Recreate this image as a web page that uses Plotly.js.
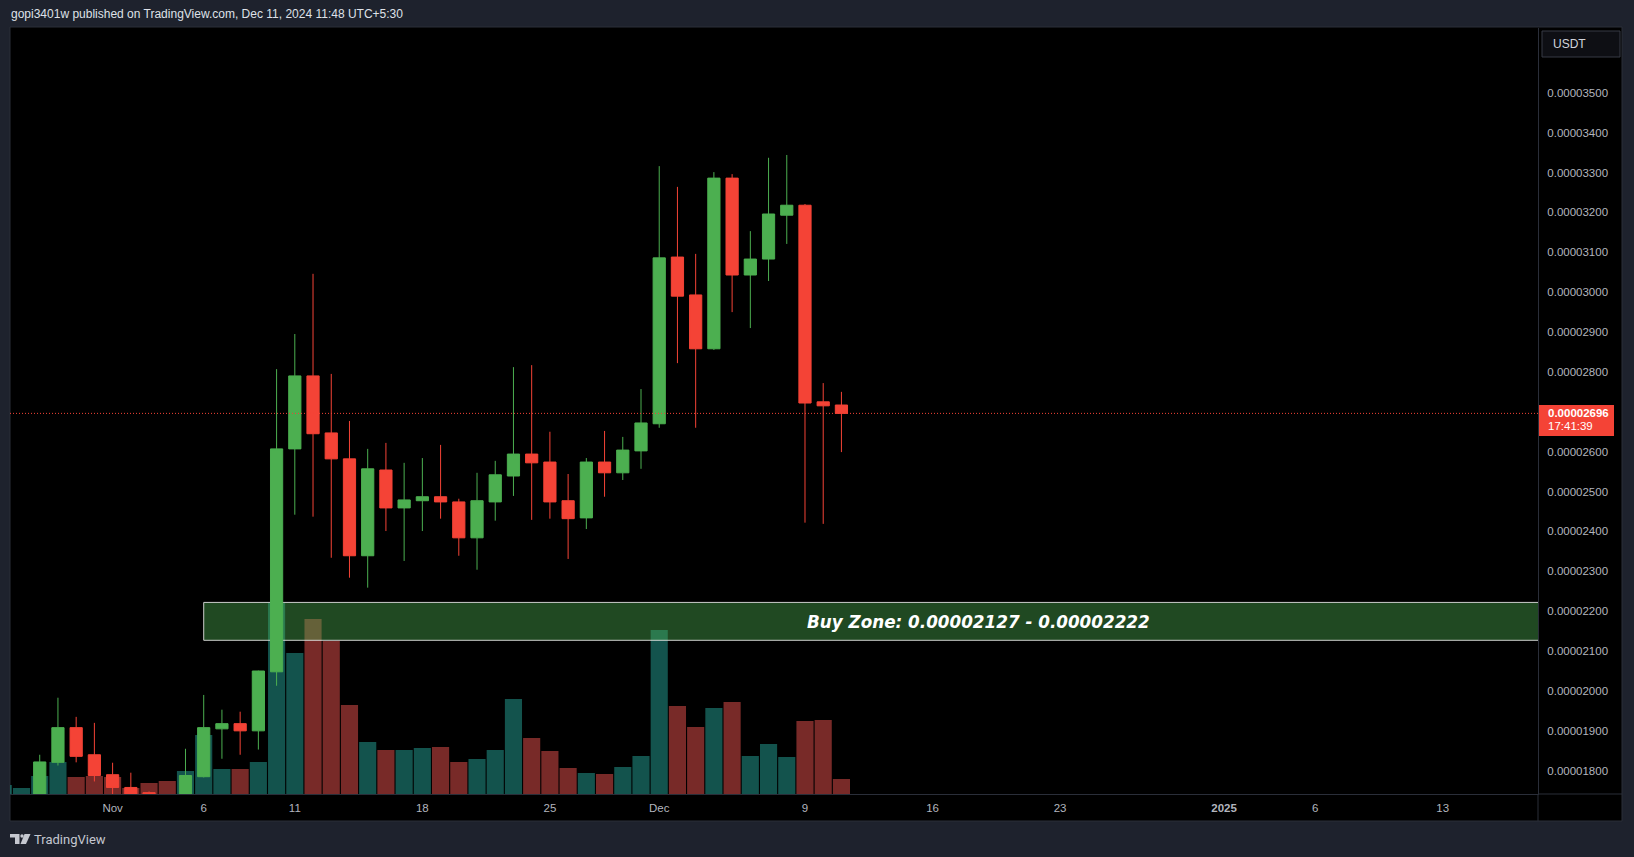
<!DOCTYPE html>
<html><head><meta charset="utf-8">
<script src="https://cdn.plot.ly/plotly-3.0.1.min.js"></script>
<style>html,body{margin:0;padding:0;background:#1e222d;overflow:hidden}#chart{width:1634px;height:857px}</style>
</head><body><div id="chart"></div>
<script>
// ---- data (prices in units of 1e-8 USDT) ----
const PRICE_UNIT = 1e-8;
const dates = ['2024-10-28','2024-10-29','2024-10-30','2024-10-31','2024-11-01','2024-11-02','2024-11-03','2024-11-04','2024-11-05','2024-11-06',
'2024-11-07','2024-11-08','2024-11-09','2024-11-10','2024-11-11','2024-11-12','2024-11-13','2024-11-14','2024-11-15','2024-11-16',
'2024-11-17','2024-11-18','2024-11-19','2024-11-20','2024-11-21','2024-11-22','2024-11-23','2024-11-24','2024-11-25','2024-11-26',
'2024-11-27','2024-11-28','2024-11-29','2024-11-30','2024-12-01','2024-12-02','2024-12-03','2024-12-04','2024-12-05','2024-12-06',
'2024-12-07','2024-12-08','2024-12-09','2024-12-10','2024-12-11'];
const openP  = [1720,1821,1908,1840,1790,1758,1745,1730,1725,1785, 1905,1918,1900,2048,2607,2790,2647,2582,2339,2554, 2459,2477,2487,2474,2384,2474,2539,2594,2574,2477, 2434,2574,2547,2602,2670,3088,2993,2858,3286,3043, 3083,3193,3218,2725,2717];
const highP  = [1840,1983,1935,1920,1820,1795,1748,1738,1855,1990, 1953,1948,2051,2807,2895,3046,2795,2677,2607,2622, 2572,2584,2617,2482,2547,2577,2812,2817,2650,2544, 2584,2652,2637,2757,3316,3264,3096,3301,3296,3153, 3337,3344,3221,2772,2750];
const lowP   = [1700,1813,1821,1773,1735,1710,1700,1700,1710,1783, 1830,1840,1853,2013,2442,2437,2334,2284,2259,2401, 2326,2401,2432,2339,2304,2427,2489,2429,2432,2331, 2406,2487,2529,2557,2660,2822,2660,2855,2950,2910, 3028,3121,2422,2419,2599];
const closeP = [1822,1908,1836,1788,1758,1730,1738,1720,1788,1908, 1918,1900,2050,2607,2790,2645,2582,2339,2557,2459, 2479,2487,2474,2384,2477,2542,2594,2572,2474,2432, 2574,2547,2604,2672,3086,2990,2858,3286,3043,3083, 3196,3218,2722,2715,2696];

const volDates = ['2024-10-26','2024-10-27','2024-10-28','2024-10-29','2024-10-30','2024-10-31','2024-11-01','2024-11-02','2024-11-03','2024-11-04',
'2024-11-05','2024-11-06','2024-11-07','2024-11-08','2024-11-09','2024-11-10','2024-11-11','2024-11-12','2024-11-13','2024-11-14',
'2024-11-15','2024-11-16','2024-11-17','2024-11-18','2024-11-19','2024-11-20','2024-11-21','2024-11-22','2024-11-23','2024-11-24',
'2024-11-25','2024-11-26','2024-11-27','2024-11-28','2024-11-29','2024-11-30','2024-12-01','2024-12-02','2024-12-03','2024-12-04',
'2024-12-05','2024-12-06','2024-12-07','2024-12-08','2024-12-09','2024-12-10','2024-12-11'];
const volume = [9,6,18,32,17,18,17,6,11,13, 23,59,25,25,32,191,141,175,153,89, 52,44,44,46,47,32,35,44,95,56, 43,26,21,20,27,38,164,88,67,86, 92,38,50,37,73,74,15];
const volUp  = [1,1,1,1,0,0,0,0,0,0, 1,1,1,0,1,1,1,0,0,0, 1,0,1,1,0,0,1,1,1,0, 0,0,1,0,1,1,1,0,0,1, 0,1,1,1,0,0,0];

const zoneStart = '2024-11-06', zoneEnd = '2025-01-30 02:00';
const zoneLow = 2127, zoneHigh = 2222;
const zoneLabel = 'Buy Zone: 0.00002127 - 0.00002222';

const tickDates = ['2024-11-01','2024-11-06','2024-11-11','2024-11-18','2024-11-25','2024-12-01','2024-12-09','2024-12-16','2024-12-23','2025-01-01','2025-01-06','2025-01-13'];
const tickText  = ['Nov','6','11','18','25','Dec','9','16','23','<b>2025</b>','6','13'];
const priceTicks = [1800,1900,2000,2100,2200,2300,2400,2500,2600,2700,2800,2900,3000,3100,3200,3300,3400,3500];
const countdown = '17:41:39';
const headerText = 'gopi3401w published on TradingView.com, Dec 11, 2024 11:48 UTC+5:30';

// ---- style / layout constants ----
const W = 1634, H = 857, ML = 10, MR = 96, MT = 28, MB = 63;
const PW = W - ML - MR, PH = H - MT - MB;
const px2x = px => (px - ML) / PW;
const py2y = py => (MT + PH - py) / PH;
const UP = '#4caf50', DN = '#f44336';
const VUP = 'rgba(38,166,154,0.5)', VDN = 'rgba(239,83,80,0.5)';
const AXC = '#b2b5be', LINEC = '#2a2e39';
const xRange = ['2024-10-26 08:51', '2025-01-18 05:31'];
const yRange = [1741.6 * PRICE_UNIT, 3662.4 * PRICE_UNIT];
const FONT = 'Liberation Sans, Arial, sans-serif';

const p = a => a.map(v => v * PRICE_UNIT);
const lastPrice = closeP[closeP.length - 1] * PRICE_UNIT;

const volTrace = {
  type: 'bar', x: volDates, y: volume, xaxis: 'x', yaxis: 'y',
  marker: {color: volUp.map(u => u ? VUP : VDN), line: {width: 0}},
  hoverinfo: 'skip'
};
const zoneTrace = {
  type: 'scatter', mode: 'lines', xaxis: 'x', yaxis: 'y2',
  x: [zoneStart, zoneEnd, zoneEnd, zoneStart, zoneStart],
  y: p([zoneLow, zoneLow, zoneHigh, zoneHigh, zoneLow]),
  fill: 'toself', fillcolor: 'rgba(76,175,80,0.42)',
  line: {color: 'rgba(225,225,225,0.9)', width: 1}, hoverinfo: 'skip'
};
const candleTrace = {
  type: 'candlestick', x: dates, open: p(openP), high: p(highP), low: p(lowP), close: p(closeP),
  xaxis: 'x', yaxis: 'y3', whiskerwidth: 0,
  increasing: {line: {color: UP, width: 1}, fillcolor: UP},
  decreasing: {line: {color: DN, width: 1}, fillcolor: DN},
  hoverinfo: 'skip'
};

const pathFrom = pts => 'M' + pts.map(([a, b]) => px2x(a) + ',' + py2y(b)).join(' L') + ' Z';

const shapes = [
  {type: 'rect', xref: 'paper', yref: 'paper', x0: px2x(10), x1: px2x(1622), y0: py2y(821), y1: py2y(27),
   fillcolor: '#000000', line: {color: LINEC, width: 1}, layer: 'below'},
  {type: 'line', xref: 'paper', yref: 'paper', x0: 1, x1: px2x(1622), y0: 0, y1: 0, line: {color: LINEC, width: 1}},
  {type: 'line', xref: 'paper', yref: 'paper', x0: 1, x1: 1, y0: py2y(821), y1: 0, line: {color: LINEC, width: 1}},
  {type: 'line', xref: 'paper', yref: 'y2', x0: 0, x1: 1, y0: lastPrice, y1: lastPrice,
   line: {color: DN, width: 1, dash: '1px,2px'}, layer: 'above'},
  {type: 'rect', xref: 'paper', xsizemode: 'pixel', xanchor: 1, x0: 1, x1: 76,
   yref: 'y2', ysizemode: 'pixel', yanchor: lastPrice, y0: -22.5, y1: 8.5,
   fillcolor: DN, line: {width: 0}, layer: 'above'},
  {type: 'rect', xref: 'paper', xsizemode: 'pixel', xanchor: 1, x0: 4, x1: 82,
   yref: 'paper', ysizemode: 'pixel', yanchor: 1, y0: -3, y1: -29,
   fillcolor: 'rgba(30,34,45,0.45)', line: {color: '#363a45', width: 1}},
  {type: 'path', xref: 'paper', yref: 'paper', path: pathFrom([[10,834],[19.5,834],[19.5,844],[15,844],[15,837.6],[10,837.6]]),
   fillcolor: '#c5c8d0', line: {width: 0}},
  {type: 'circle', xref: 'paper', yref: 'paper', x0: px2x(20.3), x1: px2x(23.7), y0: py2y(837.7), y1: py2y(834.3),
   fillcolor: '#c5c8d0', line: {width: 0}},
  {type: 'path', xref: 'paper', yref: 'paper', path: pathFrom([[24.5,834],[30.5,834],[26,844],[20.5,844]]),
   fillcolor: '#c5c8d0', line: {width: 0}}
];

const zoneMid = new Date((new Date(zoneStart.replace(' ', 'T') + 'Z').getTime() + new Date(zoneEnd.replace(' ', 'T') + 'Z').getTime()) / 2)
  .toISOString().replace('T', ' ').slice(0, 19);

const annotations = [
  {xref: 'x', yref: 'y2', x: zoneMid, y: (zoneLow + zoneHigh) / 2 * PRICE_UNIT, yshift: -1, text: '<b><i>' + zoneLabel + '</i></b>',
   showarrow: false, font: {family: 'DejaVu Sans, sans-serif', size: 16.8, color: '#ffffff'}, xanchor: 'center', yanchor: 'middle'},
  {xref: 'paper', yref: 'y2', x: 1, xshift: 8, y: lastPrice, xanchor: 'left', yanchor: 'middle',
   text: '<b>' + lastPrice.toFixed(8) + '</b>', showarrow: false, font: {family: FONT, size: 11.5, color: '#ffffff'}},
  {xref: 'paper', yref: 'y2', x: 1, xshift: 8, y: lastPrice, yshift: -13, xanchor: 'left', yanchor: 'middle',
   text: countdown, showarrow: false, font: {family: FONT, size: 11.5, color: '#ffffff'}},
  {xref: 'paper', yref: 'paper', x: 1, xshift: 13, y: py2y(44), xanchor: 'left', yanchor: 'middle',
   text: 'USDT', showarrow: false, font: {family: FONT, size: 12, color: '#d1d4dc'}},
  {xref: 'paper', yref: 'paper', x: px2x(9), y: py2y(14), xanchor: 'left', yanchor: 'middle',
   text: headerText, showarrow: false, font: {family: FONT, size: 12, color: '#dfe1e8'}},
  {xref: 'paper', yref: 'paper', x: px2x(32), y: py2y(839.5), xanchor: 'left', yanchor: 'middle',
   text: 'TradingView', showarrow: false, font: {family: 'Roboto, sans-serif', size: 13, color: '#c5c8d0'}}
];

const layout = {
  width: W, height: H, margin: {l: ML, r: MR, t: MT, b: MB, pad: 0},
  paper_bgcolor: '#1e222d', plot_bgcolor: '#000000',
  font: {family: FONT, color: AXC, size: 11.5},
  showlegend: false, hovermode: false, dragmode: false,
  bargap: 0.06, boxgap: 0.33, boxgroupgap: 0,
  xaxis: {type: 'date', range: xRange, tickvals: tickDates, ticktext: tickText,
    showgrid: false, zeroline: false, showline: true, linecolor: LINEC, linewidth: 1,
    ticks: 'outside', ticklen: 3, tickcolor: 'rgba(0,0,0,0)', tickfont: {color: AXC, size: 11.5},
    rangeslider: {visible: false}, fixedrange: true},
  yaxis: {range: [0, PH], visible: false, showgrid: false, zeroline: false, fixedrange: true},
  yaxis2: {overlaying: 'y', side: 'right', anchor: 'x', range: yRange, tickvals: p(priceTicks), tickformat: '.8f',
    showgrid: false, zeroline: false, showline: true, linecolor: LINEC, linewidth: 1,
    ticks: 'outside', ticklen: 6, tickcolor: 'rgba(0,0,0,0)', tickfont: {color: AXC, size: 11.5}, fixedrange: true},
  yaxis3: {overlaying: 'y', side: 'right', anchor: 'x', range: yRange, visible: false, showgrid: false, zeroline: false, fixedrange: true},
  shapes: shapes, annotations: annotations
};

Plotly.newPlot('chart', [volTrace, zoneTrace, candleTrace], layout, {displayModeBar: false, staticPlot: true});
</script>
</body></html>
